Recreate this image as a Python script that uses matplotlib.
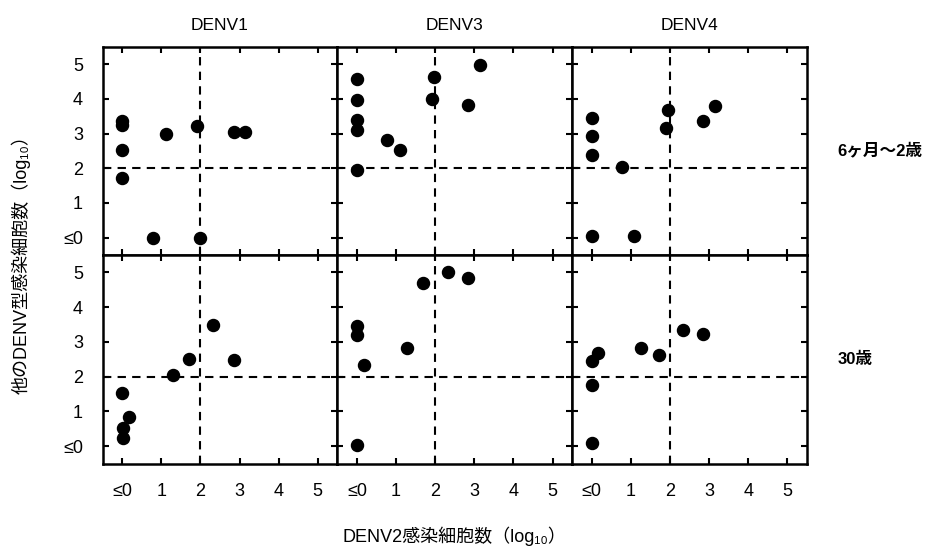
import numpy as np
import matplotlib
matplotlib.use("Agg")
import matplotlib.pyplot as plt

plt.rcParams['font.family'] = ['Liberation Sans', 'Noto Sans CJK JP', 'DejaVu Sans']

# ---- datos (log10), x = DENV2, y = otro serotipo ----
col_titles = ["DENV1", "DENV3", "DENV4"]
row_titles = ["6ヶ月〜2歳", "30歳"]

# fila 1: 6 meses - 2 anos
d1_top_x = [0, 0, 0, 0, 1.11, 1.91, 2.85, 3.15, 0.79, 2.0]
d1_top_y = [3.35, 3.25, 2.52, 1.72, 3.0, 3.23, 3.03, 3.03, 0.0, 0.0]
d3_top_x = [0, 0, 0, 0, 0, 0.78, 1.11, 1.96, 1.91, 2.84, 3.14]
d3_top_y = [4.57, 3.97, 3.40, 3.09, 1.94, 2.82, 2.52, 4.64, 3.99, 3.81, 4.96]
d4_top_x = [0, 0, 0, 0, 0.77, 1.08, 1.95, 1.89, 2.83, 3.16]
d4_top_y = [3.45, 2.93, 2.37, 0.05, 2.03, 0.05, 3.67, 3.16, 3.37, 3.80]

# fila 2: 30 anos
d1_bot_x = [0, 0.18, 0.02, 0.02, 1.30, 1.72, 2.33, 2.85]
d1_bot_y = [1.53, 0.85, 0.53, 0.24, 2.05, 2.51, 3.50, 2.49]
d3_bot_x = [0, 0, 0.17, 0, 1.28, 1.69, 2.32, 2.83]
d3_bot_y = [3.45, 3.19, 2.35, 0.03, 2.82, 4.69, 5.0, 4.83]
d4_bot_x = [0, 0.17, 0, 0, 1.27, 1.71, 2.34, 2.85]
d4_bot_y = [2.45, 2.68, 1.76, 0.08, 2.82, 2.61, 3.35, 3.23]

panels = [
    [(d1_top_x, d1_top_y), (d3_top_x, d3_top_y), (d4_top_x, d4_top_y)],
    [(d1_bot_x, d1_bot_y), (d3_bot_x, d3_bot_y), (d4_bot_x, d4_bot_y)],
]

ticks = [0, 1, 2, 3, 4, 5]
tick_labels = ["≤0", "1", "2", "3", "4", "5"]

fig, axes = plt.subplots(2, 3, figsize=(9.41, 5.53), dpi=100)
fig.subplots_adjust(left=0.109, right=0.8576, top=0.9156, bottom=0.1618,
                    wspace=0, hspace=0)

for r in range(2):
    for c in range(3):
        ax = axes[r, c]
        xs, ys = panels[r][c]
        ax.scatter(xs, ys, s=75, color='black', zorder=3)
        ax.axvline(2, color='black', ls=(0, (4, 3)), lw=1.5)
        ax.axhline(2, color='black', ls=(0, (4, 3)), lw=1.5)
        ax.set_xlim(-0.5, 5.5)
        ax.set_ylim(-0.5, 5.5)
        ax.set_xticks(ticks)
        ax.set_yticks(ticks)
        ax.tick_params(direction='in', length=4, width=1.5,
                       top=True, right=True, labelsize=13)
        ax.tick_params(axis='x', pad=14)
        ax.tick_params(axis='y', pad=14)
        if r == 1:
            ax.set_xticklabels(tick_labels)
        else:
            ax.set_xticklabels([])
        if c == 0:
            ax.set_yticklabels(tick_labels)
        else:
            ax.set_yticklabels([])
        for sp in ax.spines.values():
            sp.set_linewidth(1.8)
        if r == 0:
            ax.set_title(col_titles[c], fontsize=12.5, pad=12)
        if c == 2:
            ax.text(1.13, 0.5, row_titles[r], transform=ax.transAxes,
                    fontsize=12, fontweight='bold', va='center', ha='left')

fig.text(0.022, 0.53, "他のDENV型感染細胞数（log₁₀）", rotation=90,
         fontsize=13, ha='center', va='center')
fig.text(0.483, 0.03, "DENV2感染細胞数（log₁₀）",
         fontsize=13, ha='center', va='center')

plt.savefig("out.png", dpi=100)
